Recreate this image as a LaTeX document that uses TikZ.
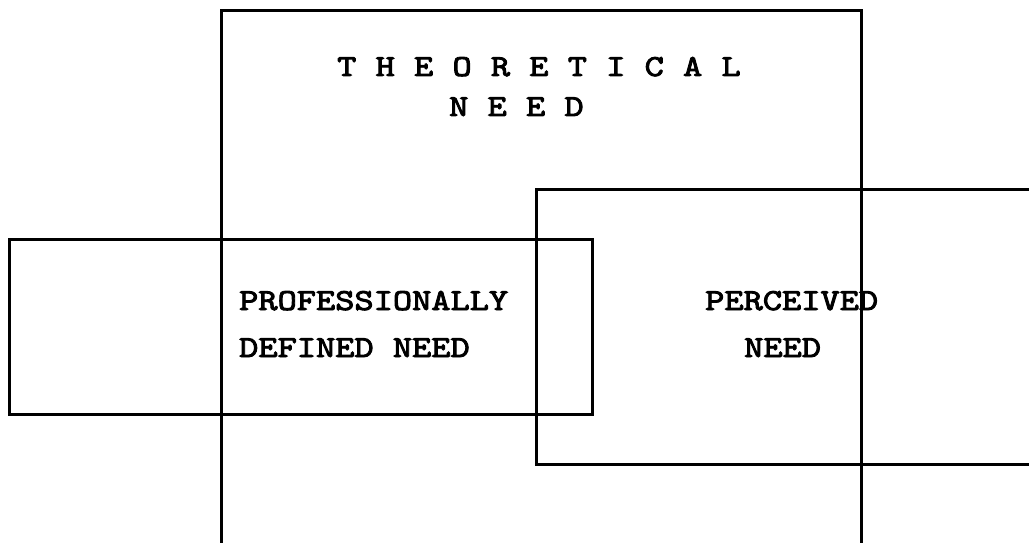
\documentclass[tikz,border=0pt]{standalone}
\usepackage{fontspec}
\newfontfamily\typefont{lmmono10-regular.otf}[FakeStretch=1.2, FakeBold=3]
\tikzset{
  box/.style={line width=3pt, line join=miter},
  boxtext/.style={font=\typefont\fontsize{30.5}{40}\selectfont, anchor=base west, inner sep=0pt}
}
\begin{document}
\begin{tikzpicture}[x=1pt, y=-1pt]
    \useasboundingbox (0, 0) rectangle (1029, 543);

    % theoretical need (open at the bottom)
    \draw[box] (221, 543) -- (221, 11) -- (861, 11) -- (861, 543);
    \node[boxtext] (theo1) at (337, 76) {T H E O R E T I C A L};
    \node[boxtext] (theo2) at (449, 116) {N E E D};

    % professionally defined need
    \draw[box] (9, 239) rectangle (592, 414);
    \node[boxtext] (prof1) at (239, 310) {PROFESSIONALLY};
    \node[boxtext] (prof2) at (239, 357) {DEFINED NEED};

    % perceived need (open at the right)
    \draw[box] (1029, 189) -- (536, 189) -- (536, 464) -- (1029, 464);
    \node[boxtext] (perc1) at (705, 310) {PERCEIVED};
    \node[boxtext] (perc2) at (744, 357) {NEED};
\end{tikzpicture}
\end{document}
